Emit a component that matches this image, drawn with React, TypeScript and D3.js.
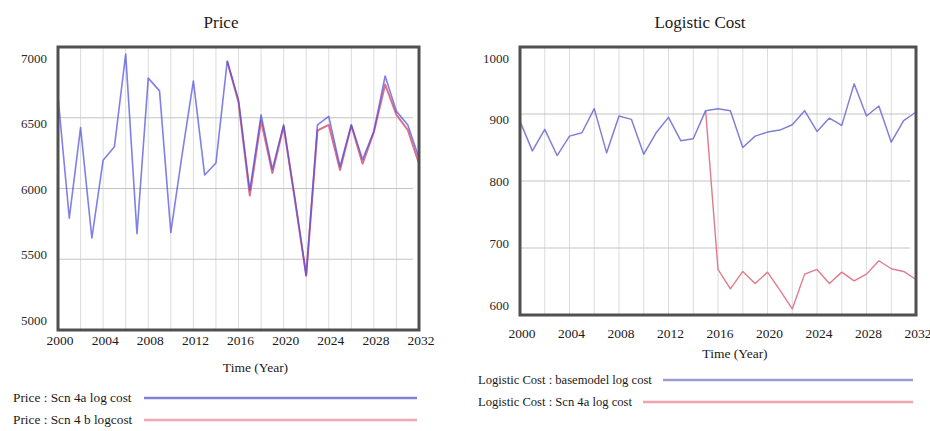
import React from "react";
import * as d3 from "d3";

const years = d3.range(2000, 2033);

const priceScn4a = [6650, 5790, 6430, 5650, 6200, 6295, 6950, 5680, 6780, 6690, 5690, 6240, 6760, 6095, 6180, 6900, 6625, 5985, 6520, 6135, 6450, 5930, 5385, 6450, 6510, 6155, 6450, 6205, 6405, 6795, 6545, 6450, 6215];
const priceScn4bYears = d3.range(2015, 2033);
const priceScn4b = [6900, 6610, 5950, 6480, 6110, 6440, 5920, 5385, 6410, 6450, 6130, 6445, 6175, 6400, 6735, 6520, 6415, 6175];

const logBase = [889, 845, 877, 838, 867, 872, 908, 842, 897, 892, 840, 872, 895, 860, 863, 905, 908, 905, 850, 867, 873, 876, 884, 905, 874, 894, 883, 945, 897, 912, 858, 890, 903];
const logScn4aYears = d3.range(2015, 2033);
const logScn4a = [905, 668, 639, 665, 647, 664, 637, 609, 661, 668, 647, 664, 651, 661, 681, 669, 665, 653];

const xTicks = [2000, 2004, 2008, 2012, 2016, 2020, 2024, 2028, 2032];
const xGrid = d3.range(2000, 2033, 2);
const priceTicks = [5000, 5500, 6000, 6500, 7000];
const logTicks = [600, 700, 800, 900, 1000];

const FONT = "'Liberation Serif', 'DejaVu Serif', serif";

type Series = { xs: number[]; ys: number[]; color: string; width: number; opacity: number };

function Panel(props: {
  left: number; right: number; top: number; bottom: number;
  domain: [number, number]; ticks: number[]; title: string; titleX: number;
  tickY: number; axisTitleY: number; series: Series[]; legendSize: number;
  legend: { label: string; color: string; lx: number; x1: number; x2: number; y: number }[];
}) {
  const { left, right, top, bottom, domain, ticks, series } = props;
  const x = d3.scaleLinear().domain([2000, 2032]).range([left, right]);
  const y = d3.scaleLinear().domain(domain).range([bottom, top]);
  const yLabel = d3.scaleLinear().domain(domain).range([bottom - 10, top + 11]);
  const line = d3.line<[number, number]>().x(d => x(d[0])).y(d => y(d[1]));
  return (
    <g>
      <text x={props.titleX} y={28} textAnchor="middle" fontFamily={FONT} fontSize={17} fill="#1a1a1a">{props.title}</text>
      {xGrid.map(v => (
        <line key={"vg" + v} x1={x(v)} x2={x(v)} y1={top} y2={bottom} stroke="#dcdcdc" strokeWidth={1} />
      ))}
      {ticks.slice(1, -1).map(v => (
        <line key={"hg" + v} x1={left} x2={right - 6} y1={y(v)} y2={y(v)} stroke="#c4c4c4" strokeWidth={1.2} />
      ))}
      {series.map((s, i) => (
        <path key={i} d={line(s.xs.map((xv, j) => [xv, s.ys[j]] as [number, number])) || ""} fill="none" stroke={s.color} strokeWidth={s.width} strokeOpacity={s.opacity} strokeLinejoin="round" />
      ))}
      <rect x={left} y={top} width={right - left} height={bottom - top} fill="none" stroke="#505050" strokeWidth={3} />
      {ticks.map(v => (
        <text key={"yl" + v} x={left - 11} y={yLabel(v)} dy="0.35em" textAnchor="end" fontFamily={FONT} fontSize={13} fill="#2a2a2a">{v}</text>
      ))}
      {xTicks.map(v => (
        <text key={"xl" + v} x={x(v) + 2} y={props.tickY} textAnchor="middle" fontFamily={FONT} fontSize={13.5} fill="#1a1a1a">{v}</text>
      ))}
      <text x={(left + right) / 2 + 17} y={props.axisTitleY} textAnchor="middle" fontFamily={FONT} fontSize={13.5} fill="#1a1a1a">Time (Year)</text>
      {props.legend.map((l, i) => (
        <g key={"lg" + i}>
          <text x={l.lx} y={l.y + 4} fontFamily={FONT} fontSize={props.legendSize} fill="#1a1a1a">{l.label}</text>
          <line x1={l.x1} x2={l.x2} y1={l.y} y2={l.y} stroke={l.color} strokeWidth={2.5} />
        </g>
      ))}
    </g>
  );
}

export default function App() {
  return (
    <svg width={930} height={431} style={{ position: "absolute", left: 0, top: 0, background: "#fff" }}>
      <rect x={0} y={0} width={930} height={431} fill="#fff" />
      <Panel
        left={58} right={419} top={47} bottom={330}
        domain={[5000, 7000]} ticks={priceTicks}
        title="Price" titleX={221} tickY={345} axisTitleY={372} legendSize={13.3}
        series={[
          { xs: priceScn4bYears, ys: priceScn4b, color: "#d9607c", width: 2, opacity: 0.9 },
          { xs: years, ys: priceScn4a, color: "#4a4ae0", width: 1.6, opacity: 0.7 },
        ]}
        legend={[
          { label: "Price : Scn 4a log cost", color: "#8080d8", lx: 13, x1: 144, x2: 417, y: 398 },
          { label: "Price : Scn 4 b logcost", color: "#f2a8b0", lx: 13, x1: 144, x2: 417, y: 420 },
        ]}
      />
      <Panel
        left={520} right={916} top={47} bottom={315}
        domain={[600, 1000]} ticks={logTicks}
        title="Logistic Cost" titleX={700} tickY={338} axisTitleY={358} legendSize={12.6}
        series={[
          { xs: logScn4aYears, ys: logScn4a, color: "#e07c8a", width: 1.4, opacity: 1 },
          { xs: years, ys: logBase, color: "#6a6ad0", width: 1.5, opacity: 0.85 },
        ]}
        legend={[
          { label: "Logistic Cost : basemodel log cost", color: "#9c9cd4", lx: 478, x1: 663, x2: 913, y: 380 },
          { label: "Logistic Cost : Scn 4a log cost", color: "#f0a4ac", lx: 478, x1: 643, x2: 913, y: 402 },
        ]}
      />
    </svg>
  );
}
